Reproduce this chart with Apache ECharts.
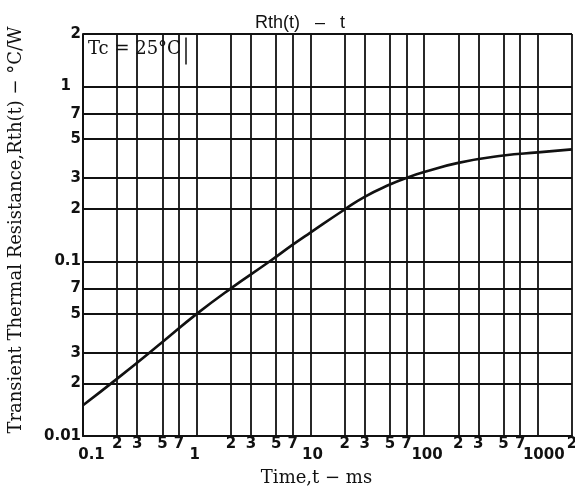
<!DOCTYPE html>
<html lang="en">
<head>
    <meta charset="utf-8">
    <title>Rth(t) - t</title>
    <script type="text/javascript" src="https://cdn.jsdelivr.net/npm/echarts@6.0.0/dist/echarts.min.js"></script>
    <style>
        html, body { margin: 0; padding: 0; background: #fff; }
        #chart { width: 575px; height: 491px; }
    </style>
</head>
<body>
    <div id="chart"></div>
    <script>
        // curve
        const timeMs = [0.1, 0.2, 0.5, 1, 2, 4.4, 7, 10, 20, 30, 50, 70, 100, 200, 500, 1000, 2000];
        const rth = [0.015, 0.0213, 0.0345, 0.05, 0.07, 0.1, 0.1245, 0.146, 0.198, 0.234, 0.275, 0.3, 0.324, 0.366, 0.403, 0.42, 0.437];

        // grid / tick positions
        const xTicks = [0.1, 0.2, 0.3, 0.5, 0.7, 1, 2, 3, 5, 7, 10, 20, 30, 50, 70, 100, 200, 300, 500, 700, 1000, 2000];
        const yTicks = [0.01, 0.02, 0.03, 0.05, 0.07, 0.1, 0.2, 0.3, 0.5, 0.7, 1, 2];
        const xDecadeLabels = { '0.1': 'a', '1': 'b', '10': 'c', '100': 'd', '1000': 'e' };

        const chart = echarts.init(document.getElementById('chart'));
        const ink = '#111';
        const tickFont = '"DejaVu Sans", sans-serif';
        const titleFont = '"Liberation Sans", Arial, sans-serif';
        const serif = '"DejaVu Serif", "Liberation Serif", serif';

        function isDecade(v) {
            const l = Math.log10(v);
            return Math.abs(l - Math.round(l)) < 1e-6;
        }
        function niceNum(v) {
            return String(parseFloat(v.toPrecision(6)));
        }
        function tickStyle(pad) {
            return { fontFamily: tickFont, fontWeight: 'bold', fontSize: 15, color: ink, padding: pad };
        }

        const option = {
            animation: false,
            title: {
                text: 'Rth(t)   \u2013   t',
                left: 250,
                top: 9,
                textStyle: { fontFamily: titleFont, fontWeight: 'normal', fontSize: 18, color: ink }
            },
            grid: { left: 83, right: 3, top: 34, bottom: 55, outerBoundsMode: 'none' },
            xAxis: {
                type: 'log',
                logBase: 10,
                min: 0.1,
                max: 2000,
                name: 'Time,t \u2212 ms',
                nameLocation: 'middle',
                nameGap: 33,
                nameTextStyle: { fontFamily: serif, fontSize: 18, color: ink, padding: [0, 22, 0, 0] },
                axisLine: { lineStyle: { color: ink, width: 2 } },
                axisTick: { show: false, customValues: xTicks },
                splitLine: { show: true, lineStyle: { color: ink, width: 1.8 } },
                axisLabel: {
                    customValues: xTicks,
                    margin: 1,
                    color: ink,
                    showMinLabel: true,
                    showMaxLabel: true,
                    formatter: function (v) {
                        const s = niceNum(v);
                        if (isDecade(v)) return '{' + xDecadeLabels[s] + '|' + s + '}';
                        return '{m|' + s.replace(/[0.]/g, '').charAt(0) + '}';
                    },
                    rich: {
                        m: tickStyle([0, 0, 0, 0]),
                        a: tickStyle([11, 0, 0, 17]),
                        b: tickStyle([11, 4, 0, 0]),
                        c: tickStyle([11, 0, 0, 4]),
                        d: tickStyle([11, 0, 0, 6]),
                        e: tickStyle([11, 0, 0, 12])
                    }
                }
            },
            yAxis: {
                type: 'log',
                logBase: 10,
                min: 0.01,
                max: 2,
                name: 'Transient Thermal Resistance,Rth(t) \u2212 \u00b0C/W',
                nameLocation: 'middle',
                nameGap: 58,
                nameTextStyle: { fontFamily: serif, fontSize: 18, color: ink, padding: [0, 0, 0, 10] },
                axisLine: { lineStyle: { color: ink, width: 2 } },
                axisTick: { show: false, customValues: yTicks },
                splitLine: { show: true, lineStyle: { color: ink, width: 1.8 } },
                axisLabel: {
                    customValues: yTicks,
                    margin: 2,
                    color: ink,
                    fontFamily: tickFont,
                    fontWeight: 'bold',
                    fontSize: 15,
                    showMinLabel: true,
                    showMaxLabel: true,
                    formatter: function (v) {
                        const s = niceNum(v);
                        if (isDecade(v)) return s === '1' ? '{one|1}' : s;
                        return s.replace(/[0.]/g, '').charAt(0);
                    },
                    rich: {
                        one: tickStyle([0, 10, 0, 0])
                    }
                }
            },
            graphic: [{
                type: 'group',
                left: 84,
                top: 35,
                children: [{
                    type: 'rect',
                    shape: { x: 0, y: 0, width: 104, height: 37 },
                    style: { fill: '#fff', stroke: null }
                }, {
                    type: 'line',
                    shape: { x1: 102, y1: 0, x2: 102, y2: 27 },
                    style: { stroke: ink, lineWidth: 1.5 }
                }, {
                    type: 'text',
                    x: 4,
                    y: 3,
                    style: { text: 'Tc = 25\u00b0C', fontFamily: serif, fontSize: 18, fill: ink }
                }]
            }],
            series: [{
                type: 'line',
                data: timeMs.map(function (t, i) { return [t, rth[i]]; }),
                smooth: 0.5,
                showSymbol: false,
                lineStyle: { color: ink, width: 2.6 }
            }]
        };

        chart.setOption(option);
    </script>
</body>
</html>
